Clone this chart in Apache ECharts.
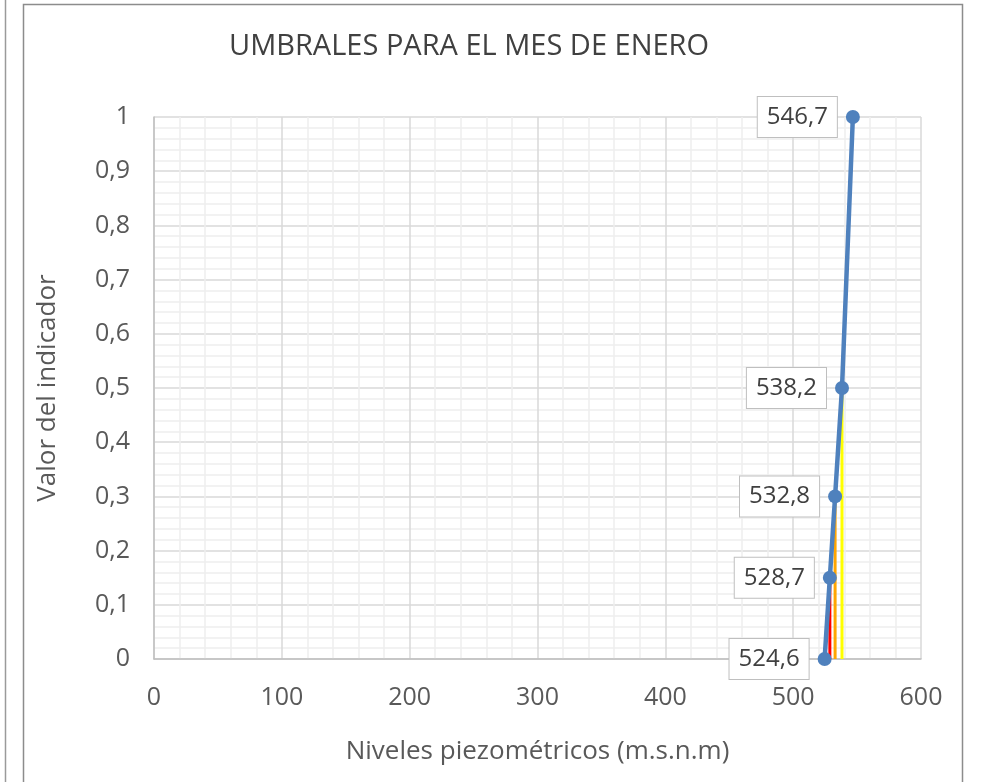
<!DOCTYPE html>
<html><head><meta charset="utf-8">
<script src="https://cdn.jsdelivr.net/npm/echarts@6/dist/echarts.min.js"></script>
<style>html,body{margin:0;padding:0;background:#fff}#c{width:991px;height:782px}</style>
</head><body><div id="c"></div>
<script>
const title = 'UMBRALES PARA EL MES DE ENERO';
const xName = 'Niveles piezométricos (m.s.n.m)';
const yName = 'Valor del indicador';
const levels = [524.6, 528.7, 532.8, 538.2, 546.7];
const indicator = [0, 0.15, 0.3, 0.5, 1];
const redX = 528.7, redTop = 0.15;
const orangeX = 532.8, orangeTop = 0.3;
const yellowX = 538.2, yellowTop = 0.5;

const font = '"Open Sans", "Liberation Sans", sans-serif';
const fmt = v => String(v).replace('.', ',');
const chart = echarts.init(document.getElementById('c'));
chart.setOption({
  animation: false,
  backgroundColor: '#fff',
  graphic: [
    {type:'rect', shape:{x:23.5,y:4.5,width:939,height:800}, style:{fill:'none',stroke:'#8c8c8c',lineWidth:1.5}},
    {type:'line', shape:{x1:5.5,y1:0,x2:5.5,y2:782}, style:{stroke:'#9a9a9a',lineWidth:1.5}},
    {type:'text', left:229, top:32, style:{text:title, font:'29px '+font, fill:'#404040'}}
  ],
  grid: {left:154, top:117, width:767, height:542},
  xAxis: {
    type:'value', min:0, max:600, interval:100,
    name:xName, nameLocation:'middle', nameGap:80,
    nameTextStyle:{fontFamily:font, fontSize:26, color:'#595959'},
    axisLine:{show:true, lineStyle:{color:'#bfbfbf', width:1.5}},
    axisTick:{show:false},
    axisLabel:{fontFamily:font, fontSize:25, color:'#595959', margin:26, formatter:fmt},
    splitLine:{show:true, lineStyle:{color:'#d9d9d9', width:1.5}},
    minorTick:{show:false, splitNumber:5},
    minorSplitLine:{show:true, lineStyle:{color:'#eeeeee', width:1.5}}
  },
  yAxis: {
    type:'value', min:0, max:1, interval:0.1,
    name:yName, nameLocation:'middle', nameGap:93,
    nameTextStyle:{fontFamily:font, fontSize:26, color:'#595959'},
    axisLine:{show:true, lineStyle:{color:'#bfbfbf', width:1.5}},
    axisTick:{show:false},
    axisLabel:{fontFamily:font, fontSize:25, color:'#595959', margin:24, formatter:v=>fmt(Math.round(v*10)/10)},
    splitLine:{show:true, lineStyle:{color:'#d9d9d9', width:1.5}},
    minorTick:{show:false, splitNumber:5},
    minorSplitLine:{show:true, lineStyle:{color:'#eeeeee', width:1.5}}
  },
  series: [
    {type:'line', data:[[redX,0],[redX,redTop]], symbol:'none', lineStyle:{color:'#ff0000', width:3}, z:2},
    {type:'line', data:[[orangeX,0],[orangeX,orangeTop]], symbol:'none', lineStyle:{color:'#ffa500', width:3}, z:2},
    {type:'line', data:[[yellowX,0],[yellowX,yellowTop]], symbol:'none', lineStyle:{color:'#ffff00', width:3}, z:2},
    {type:'line', data:levels.map((x,i)=>[x,indicator[i]]), symbol:'circle', symbolSize:14,
     itemStyle:{color:'#4f81bd'}, lineStyle:{color:'#4f81bd', width:4.5}, z:3,
     label:{show:true, position:'left', distance:9, formatter:p=>fmt(p.value[0]),
       fontFamily:font, fontSize:24, color:'#404040', backgroundColor:'#fff',
       borderColor:'#bfbfbf', borderWidth:1, padding:[9,9,7,9]}}
  ]
});
</script></body></html>
